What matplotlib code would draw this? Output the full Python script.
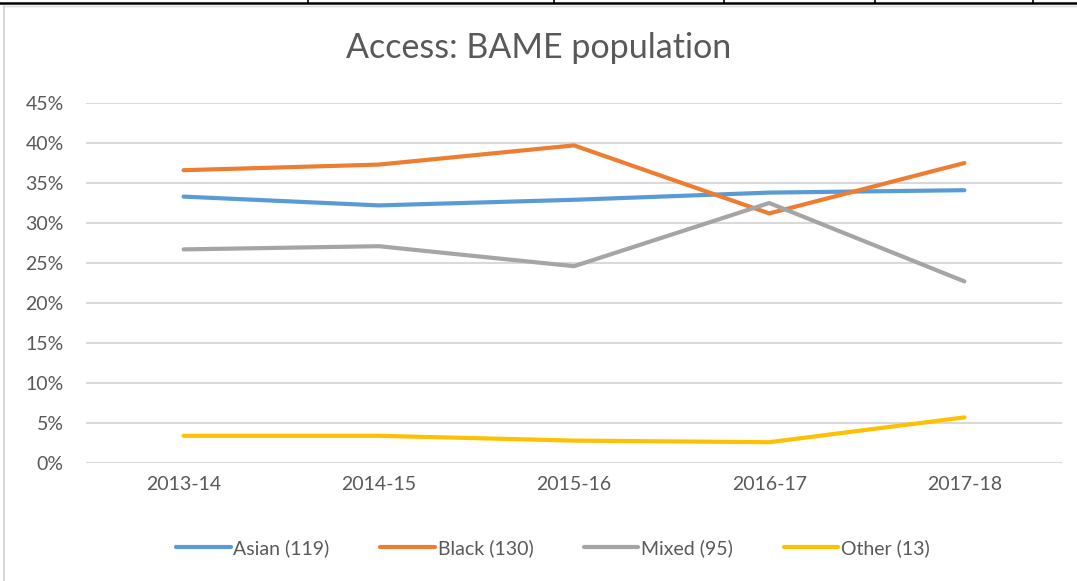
import matplotlib.pyplot as plt
from matplotlib.ticker import PercentFormatter
from matplotlib.lines import Line2D

plt.rcParams['font.family'] = ['Lato', 'DejaVu Sans']

years = ['2013-14', '2014-15', '2015-16', '2016-17', '2017-18']
asian = [33.3, 32.2, 32.9, 33.8, 34.1]
black = [36.6, 37.3, 39.7, 31.2, 37.5]
mixed = [26.7, 27.1, 24.6, 32.5, 22.7]
other = [3.4, 3.4, 2.8, 2.6, 5.7]

names = ['Asian (119)', 'Black (130)', 'Mixed (95)', 'Other (13)']
colors = ['#5B9BD5', '#ED7D31', '#A5A5A5', '#FFC000']
txt = '#595959'

fig = plt.figure(figsize=(10.77, 5.81), dpi=100)
ax = fig.add_axes([86/1077, 118/581, 976/1077, 360/581])

x = range(len(years))
for vals, c, n in zip([asian, black, mixed, other], colors, names):
    ax.plot(x, [v/100 for v in vals], color=c, lw=3, label=n, solid_capstyle='round')

ax.set_xlim(-0.5, 4.5)
ax.set_ylim(0, 0.45)
ax.set_yticks([i*0.05 for i in range(10)])
ax.yaxis.set_major_formatter(PercentFormatter(1.0, decimals=0))
ax.set_xticks(list(x))
ax.set_xticklabels(years)
ax.tick_params(length=0, labelsize=14, colors=txt, pad=9)
ax.tick_params(axis='y', pad=16)
ax.grid(axis='y', color='#D9D9D9', lw=1.5)
ax.set_axisbelow(True)
for s in ax.spines.values():
    s.set_visible(False)

fig.text(0.5, 1 - 48/581, 'Access: BAME population', ha='center', va='center',
         fontsize=24.5, color=txt)

handles = [Line2D([], [], color=c, lw=3, solid_capstyle='round') for c in colors]
fig.legend(handles, names, loc='center', bbox_to_anchor=(553/1077, 1 - 548/581),
           ncol=4, frameon=False, fontsize=14, labelcolor=txt,
           handlelength=2.8, handletextpad=0.15, columnspacing=2.6)

# surrounding table / chart borders
fig.add_artist(Line2D([0, 1], [1 - 3/581, 1 - 3/581], color='black', lw=1.8))
for px in [308, 554, 724, 875, 1033]:
    fig.add_artist(Line2D([px/1077, px/1077], [1 - 3/581, 1], color='black', lw=1.2))
fig.add_artist(Line2D([4/1077, 1], [1 - 6/581, 1 - 6/581], color='#D9D9D9', lw=1))
fig.add_artist(Line2D([4/1077, 4/1077], [0, 1 - 6/581], color='#D9D9D9', lw=1.5))

fig.savefig('out.png', dpi=100)
